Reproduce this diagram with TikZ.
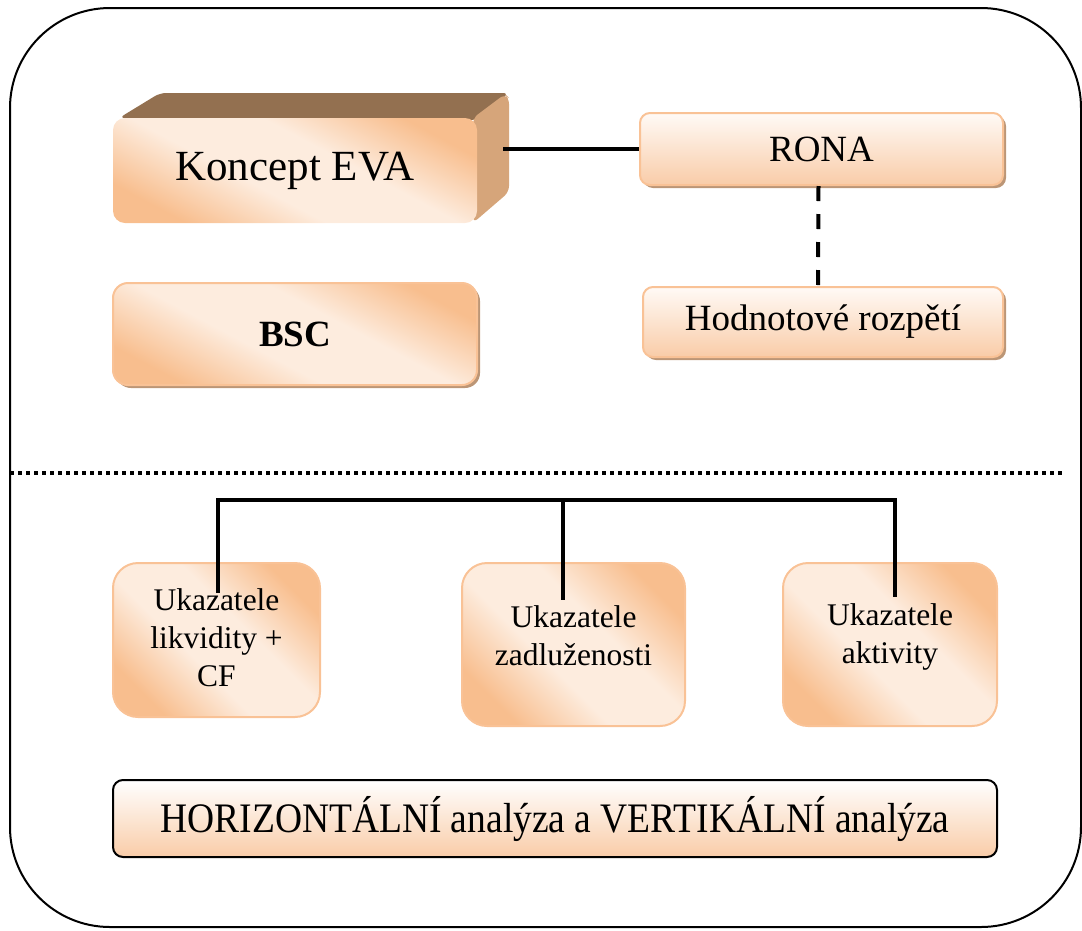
\documentclass[tikz,border=0pt]{standalone}
\usepackage{fontspec}
\usepackage{graphicx}
\setmainfont{Liberation Serif}
\usetikzlibrary{calc,shadows}

\definecolor{pdark}{RGB}{248,190,142}
\definecolor{plight}{RGB}{253,236,222}
\definecolor{pborder}{RGB}{249,194,150}
\definecolor{pbottom}{RGB}{249,204,168}
\definecolor{ptop}{RGB}{255,250,246}
\definecolor{evatop}{RGB}{147,112,80}
\definecolor{evaside}{RGB}{214,165,122}
\definecolor{shadowbrown}{RGB}{188,150,118}

% diagonal peach band: dark corners, light stripe through the middle
\pgfdeclareverticalshading{peachband}{100bp}{%
  color(0bp)=(pdark); color(25bp)=(pdark); color(42bp)=(plight);
  color(58bp)=(plight); color(75bp)=(pdark); color(100bp)=(pdark)}

\tikzset{
  frame/.style={line width=2pt, rounded corners=100pt},
  peachbox/.style={shading=peachband, shading angle=-45, draw=pborder,
    line width=2pt, align=center, inner sep=0pt},
  evaface/.style={shading=peachband, shading angle=-28, rounded corners=12pt,
    minimum width=364pt, minimum height=105pt, inner sep=0pt,
    font=\fontsize{43}{50}\selectfont},
  lightbox/.style={shading=axis, top color=ptop, bottom color=pbottom,
    draw=pborder, line width=2pt, rounded corners=10pt, inner sep=0pt,
    font=\fontsize{37}{44}\selectfont},
  brownshadow/.style={general shadow={shadow xshift=3pt, shadow yshift=-3pt,
    fill=shadowbrown}},
  conn/.style={line width=4pt},
  dashconn/.style={line width=4pt, dash pattern=on 15pt off 13pt},
  sepline/.style={line width=4pt, dash pattern=on 4pt off 4pt},
  ratio/.style={peachbox, rounded corners=25pt},
  ratiotext/.style={align=center, inner sep=0pt,
    font=\fontsize{31.5}{38}\selectfont},
}

\begin{document}
\begin{tikzpicture}[x=1pt, y=-1pt]
\useasboundingbox (0,0) rectangle (1082,930);

% outer frame
\draw[frame] (10,8) rectangle (1081,927);

% 3D block "Koncept EVA": back faces first, front face on top
\coordinate (evaNW) at (113,118);
\coordinate (evaNE) at (477,118);
\coordinate (evaSE) at (477,223);
\fill[evatop, rounded corners=6pt] ($(evaNW)+(6,0)$) -- ($(evaNW)+(47,-25)$)
  -- ($(evaNE)+(32,-25)$) -- ($(evaNE)+(0,2)$) -- cycle;
\fill[evaside, rounded corners=6pt] ($(evaNE)+(-4,0)$) -- ($(evaNE)+(28,-24)$)
  -- ($(evaNE)+(32,-20)$) -- ($(evaSE)+(32,-31)$) -- ($(evaSE)+(-4,0)$) -- cycle;
\node[evaface] (eva) at (295,170.5) {Koncept EVA};
\coordinate (evaback) at ($(eva.east)+(26,0)$);

% right column
\node[lightbox, brownshadow, minimum width=363pt, minimum height=72pt]
  (rona) at (821.5,149) {RONA};
\node[lightbox, brownshadow, minimum width=360pt, minimum height=70pt]
  (hod) at (823,322) {Hodnotové rozpětí};

% BSC
\node[peachbox, brownshadow, shading angle=-28, rounded corners=15pt,
  minimum width=364pt, minimum height=102pt,
  font=\fontsize{37}{44}\selectfont\bfseries]
  (bsc) at (295,334) {BSC};

% connectors of the upper part
\draw[conn] (rona.west) -- (rona.west -| evaback);
\draw[dashconn] ($(rona.south)+(-3,0)$) -- ($(hod.north)+(-5,0)$);

% separator
\coordinate (sepL) at (10,473);
\coordinate (sepR) at (1062,473);
\draw[sepline] (sepL) -- (sepR);

% ratio groups: boxes, then their captions (y grows downwards here)
\node[ratio, minimum width=207pt, minimum height=154pt] (liq) at (216.5,640) {};
\node[ratio, minimum width=223pt, minimum height=163pt] (debt) at (573.5,644.5) {};
\node[ratio, minimum width=214pt, minimum height=163pt] (act) at (890,644.5) {};
\node[ratiotext] (liqtxt) at ($(liq.center)+(0,-2)$) {Ukazatele\\likvidity +\\CF};
\node[ratiotext] (debttxt) at ($(debt.center)+(0,-9)$) {Ukazatele\\zadluženosti};
\node[ratiotext] (acttxt) at ($(act.center)+(0,-8)$) {Ukazatele\\aktivity};

% tree connector
\coordinate (t1) at (218,500);
\coordinate (t2) at (563,500);
\coordinate (t3) at (895,500);
\coordinate (e1) at (218,593);
\coordinate (e2) at (563,600);
\coordinate (e3) at (895,597);
\draw[conn] (e1) -- (t1) -- (t3) -- (e3);
\draw[conn] (t2) -- (e2);

% bottom bar
\node[shading=axis, top color=white, bottom color=pbottom, draw=black,
  line width=2pt, rounded corners=10pt, minimum width=884pt,
  minimum height=77pt, inner sep=0pt, font=\fontsize{37.5}{44}\selectfont]
  (hv) at (555,818.5)
  {\scalebox{1}[1.12]{HORIZONTÁLNÍ analýza a VERTIKÁLNÍ analýza}};
\end{tikzpicture}
\end{document}
